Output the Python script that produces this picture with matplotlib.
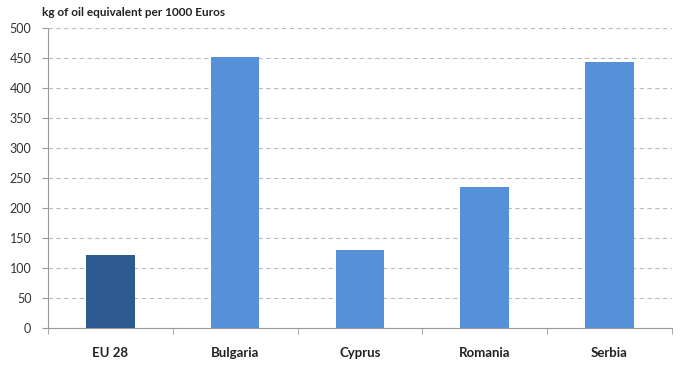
import numpy as np
import matplotlib.pyplot as plt

categories = ["EU 28", "Bulgaria", "Cyprus", "Romania", "Serbia"]
values = [122, 451, 130, 235, 443]
bar_colors = ["#2E5A92", "#5590D8", "#5590D8", "#5590D8", "#5590D8"]
y_ticks = list(range(0, 501, 50))

plt.rcParams["font.family"] = ["Lato", "DejaVu Sans"]

fig = plt.figure(figsize=(6.89, 3.67), dpi=100)
ax = fig.add_axes([0.0697, 0.1063, 0.9053, 0.8174])

x = np.arange(len(categories))
ax.bar(x, values, width=0.39, color=bar_colors, zorder=3)

ax.set_xlim(-0.5, len(categories) - 0.5)
ax.set_ylim(0, 500)
ax.set_yticks(y_ticks)
ax.set_yticklabels([str(v) for v in y_ticks], fontsize=9, color="#333333")

ax.set_xticks(x)
ax.set_xticklabels(categories, fontsize=9.5, fontweight="bold", color="#222222")
ax.tick_params(axis="x", length=0, pad=14)
ax.set_xticks(np.arange(-0.5, len(categories)), minor=True)
ax.tick_params(axis="x", which="minor", length=4, color="#999999")
ax.tick_params(axis="y", length=4, color="#999999", pad=8)

ax.grid(True, axis="y", linestyle=(0, (4, 3)), color="#BBBBBB", linewidth=0.8, zorder=0)

for side in ["top", "right"]:
    ax.spines[side].set_visible(False)
for side in ["left", "bottom"]:
    ax.spines[side].set_color("#999999")

fig.text(0.061, 0.965, "kg of oil equivalent per 1000 Euros", fontsize=8.5,
         fontweight="bold", color="#222222", ha="left", va="center")

fig.savefig("out.png", dpi=100)
